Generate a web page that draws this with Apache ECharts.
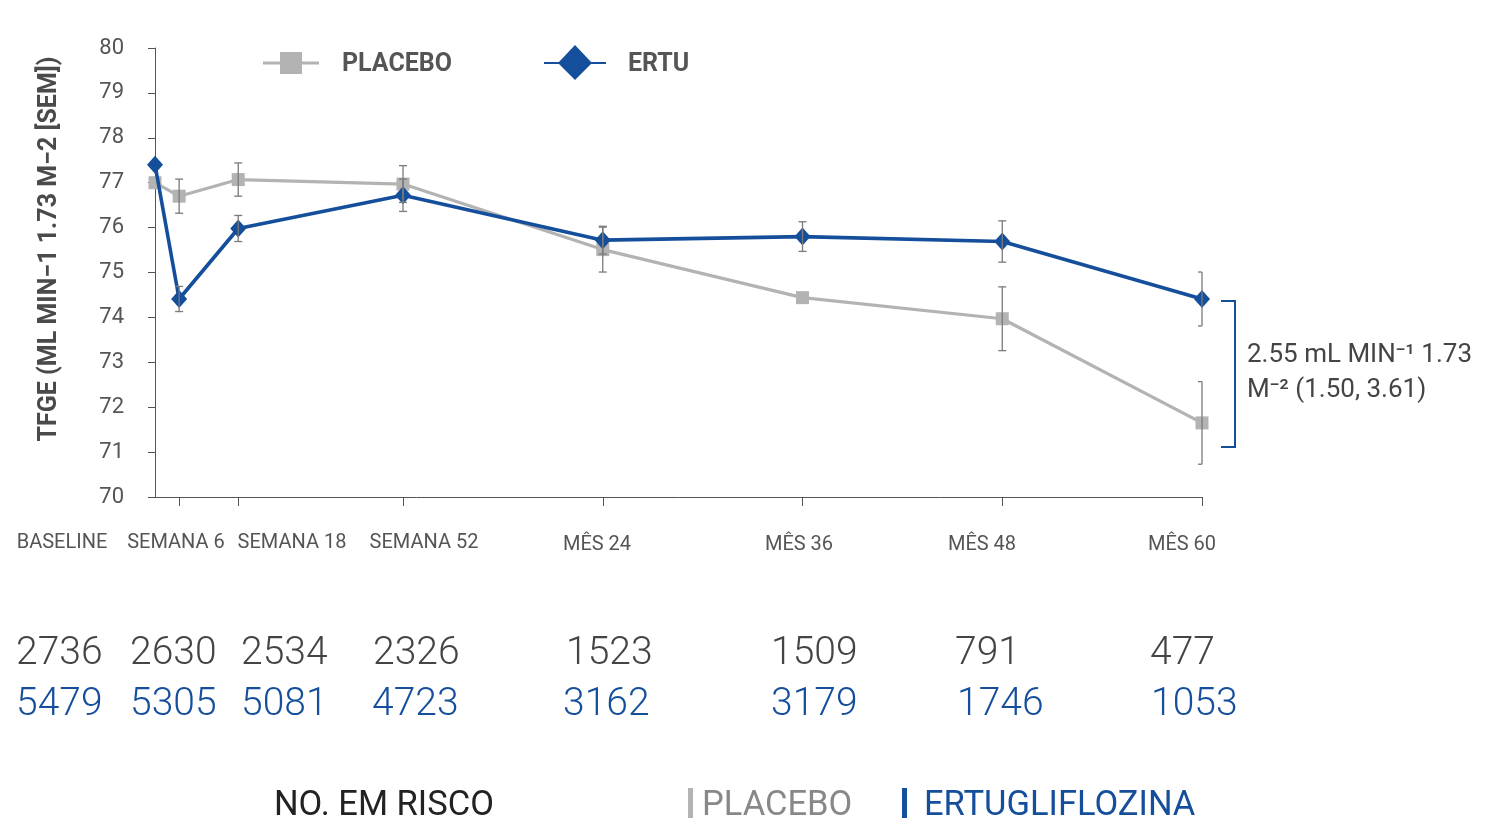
<!DOCTYPE html>
<html>
<head>
<meta charset="utf-8">
<script src="https://cdn.jsdelivr.net/npm/echarts@6/dist/echarts.min.js"></script>
<style>
html,body{margin:0;padding:0;background:#fff;}
#chart{width:1492px;height:838px;}
</style>
</head>
<body>
<div id="chart"></div>
<script>
// ---- data ----
var categories = ['BASELINE', 'SEMANA 6', 'SEMANA 18', 'SEMANA 52', 'MÊS 24', 'MÊS 36', 'MÊS 48', 'MÊS 60'];
// axis positions of each visit on the (non-uniform) time axis
var xPos = [-2.9, -1.45, 2.1, 12, 24, 36, 48, 60];
var placebo = [77.0, 76.70, 77.07, 76.97, 75.51, 74.44, 73.97, 71.65];
var placeboSem = [0, 0.38, 0.37, 0.41, 0.50, 0, 0.71, 0.92];
var ertu = [77.40, 74.41, 75.98, 76.72, 75.72, 75.80, 75.69, 74.41];
var ertuSem = [0, 0.28, 0.29, 0.36, 0.31, 0.33, 0.46, 0.60];
var yTicks = [70, 71, 72, 73, 74, 75, 76, 77, 78, 79, 80];
var placeboAtRisk = ['2736', '2630', '2534', '2326', '1523', '1509', '791', '477'];
var ertuAtRisk = ['5479', '5305', '5081', '4723', '3162', '3179', '1746', '1053'];

// ---- layout (pixels) ----
var catLabelCenters = [62, 176, 292, 424, 597, 799, 982, 1182];
var riskLeftPlacebo = [16, 130, 241, 373, 566, 771, 955, 1150];
var riskLeftErtu = [16, 130, 241, 372, 563, 771, 957, 1151];

var GRAY = '#b3b3b3';
var BLUE = '#154f9c';
var FONT = 'Roboto, "Liberation Sans", sans-serif';

function pairs(vals) {
  return vals.map(function (v, i) { return [xPos[i], v]; });
}
function errData(vals, sem) {
  var out = [];
  vals.forEach(function (v, i) {
    if (sem[i] > 0) out.push([xPos[i], v - sem[i], v + sem[i]]);
  });
  return out;
}
function errRender(params, api) {
  var lo = api.coord([api.value(0), api.value(1)]);
  var hi = api.coord([api.value(0), api.value(2)]);
  var cs = params.coordSys;
  var hw = 4;
  var xl = Math.max(cs.x, lo[0] - hw);
  var xr = Math.min(cs.x + cs.width, lo[0] + hw);
  var st = { stroke: '#7a7a7a', lineWidth: 1.3 };
  return {
    type: 'group',
    children: [
      { type: 'line', shape: { x1: lo[0], y1: lo[1], x2: hi[0], y2: hi[1] }, style: st },
      { type: 'line', shape: { x1: xl, y1: lo[1], x2: xr, y2: lo[1] }, style: st },
      { type: 'line', shape: { x1: xl, y1: hi[1], x2: xr, y2: hi[1] }, style: st }
    ]
  };
}

var graphics = [];
// y axis title
graphics.push({
  type: 'text', x: 50, y: 249, rotation: Math.PI / 2,
  style: { text: 'TFGE (ML MIN−1 1.73 M−2 [SEM])', fill: '#4a4a4a', font: 'bold 25px ' + FONT, align: 'center', verticalAlign: 'middle' }
});
// legend
graphics.push({ type: 'line', shape: { x1: 263, y1: 63, x2: 319, y2: 63 }, style: { stroke: GRAY, lineWidth: 3 } });
graphics.push({ type: 'rect', shape: { x: 280, y: 52, width: 22, height: 22 }, style: { fill: GRAY } });
graphics.push({ type: 'text', x: 342, y: 65, style: { text: 'PLACEBO', fill: '#555', font: 'bold 25px ' + FONT, verticalAlign: 'middle' } });
graphics.push({ type: 'line', shape: { x1: 544, y1: 63, x2: 606, y2: 63 }, style: { stroke: BLUE, lineWidth: 2 } });
graphics.push({ type: 'polygon', shape: { points: [[575, 45], [592, 63], [575, 80], [558, 63]] }, style: { fill: BLUE } });
graphics.push({ type: 'text', x: 628, y: 65, style: { text: 'ERTU', fill: '#555', font: 'bold 25px ' + FONT, verticalAlign: 'middle' } });
// category labels
categories.forEach(function (c, i) {
  graphics.push({ type: 'text', x: catLabelCenters[i], y: i < 4 ? 543 : 545,
    style: { text: c, fill: '#555', font: '20px ' + FONT, align: 'center', verticalAlign: 'middle' } });
});
// numbers at risk
placeboAtRisk.forEach(function (t, i) {
  graphics.push({ type: 'text', x: riskLeftPlacebo[i], y: 654,
    style: { text: t, fill: '#444', font: '300 39px ' + FONT, verticalAlign: 'middle' } });
});
ertuAtRisk.forEach(function (t, i) {
  graphics.push({ type: 'text', x: riskLeftErtu[i], y: 705,
    style: { text: t, fill: BLUE, font: '300 39px ' + FONT, verticalAlign: 'middle' } });
});
// bottom key
graphics.push({ type: 'text', x: 274, y: 806, style: { text: 'NO. EM RISCO', fill: '#222', font: '34.5px ' + FONT, verticalAlign: 'middle' } });
graphics.push({ type: 'rect', shape: { x: 688, y: 788, width: 5, height: 30 }, style: { fill: GRAY } });
graphics.push({ type: 'text', x: 702, y: 806, style: { text: 'PLACEBO', fill: '#888', font: '34.5px ' + FONT, verticalAlign: 'middle' } });
graphics.push({ type: 'rect', shape: { x: 902, y: 788, width: 5, height: 30 }, style: { fill: BLUE } });
graphics.push({ type: 'text', x: 924, y: 806, style: { text: 'ERTUGLIFLOZINA', fill: BLUE, font: '34.5px ' + FONT, verticalAlign: 'middle' } });
// difference bracket + annotation
graphics.push({ type: 'polyline', shape: { points: [[1221, 301], [1235, 301], [1235, 447], [1221, 447]] }, style: { stroke: BLUE, lineWidth: 2, fill: null } });
graphics.push({ type: 'text', x: 1247, y: 373,
  style: { text: '2.55 mL MIN⁻¹ 1.73\nM⁻² (1.50, 3.61)', fill: '#444', font: '26px ' + FONT, lineHeight: 35, verticalAlign: 'middle' } });

var chart = echarts.init(document.getElementById('chart'), null, { renderer: 'canvas' });
chart.setOption({
  backgroundColor: '#fff',
  animation: false,
  grid: { left: 155, right: 290, top: 48, bottom: 341, containLabel: false },
  xAxis: {
    type: 'value', min: xPos[0], max: xPos[xPos.length - 1],
    axisLine: { onZero: false, lineStyle: { color: '#555', width: 1 } },
    axisTick: { show: true, length: 9, customValues: xPos.slice(1), lineStyle: { color: '#555' } },
    axisLabel: { show: false },
    splitLine: { show: false }
  },
  yAxis: {
    type: 'value', min: yTicks[0], max: yTicks[yTicks.length - 1], interval: 1,
    axisLine: { show: true, onZero: false, lineStyle: { color: '#555', width: 1 } },
    axisTick: { show: true, length: 7, lineStyle: { color: '#555' } },
    axisLabel: { color: '#555', fontSize: 22, fontFamily: FONT, margin: 31 },
    splitLine: { show: false }
  },
  series: [
    {
      name: 'PLACEBO', type: 'line', data: pairs(placebo), z: 2,
      lineStyle: { color: GRAY, width: 3.2 }, itemStyle: { color: GRAY },
      symbol: 'rect', symbolSize: 13
    },
    {
      name: 'ERTU', type: 'line', data: pairs(ertu), z: 3,
      lineStyle: { color: BLUE, width: 3.6 }, itemStyle: { color: BLUE },
      symbol: 'diamond', symbolSize: [16, 18]
    },
    { type: 'custom', renderItem: errRender, data: errData(placebo, placeboSem), z: 4, silent: true },
    { type: 'custom', renderItem: errRender, data: errData(ertu, ertuSem), z: 4, silent: true }
  ],
  graphic: graphics
});
</script>
</body>
</html>
